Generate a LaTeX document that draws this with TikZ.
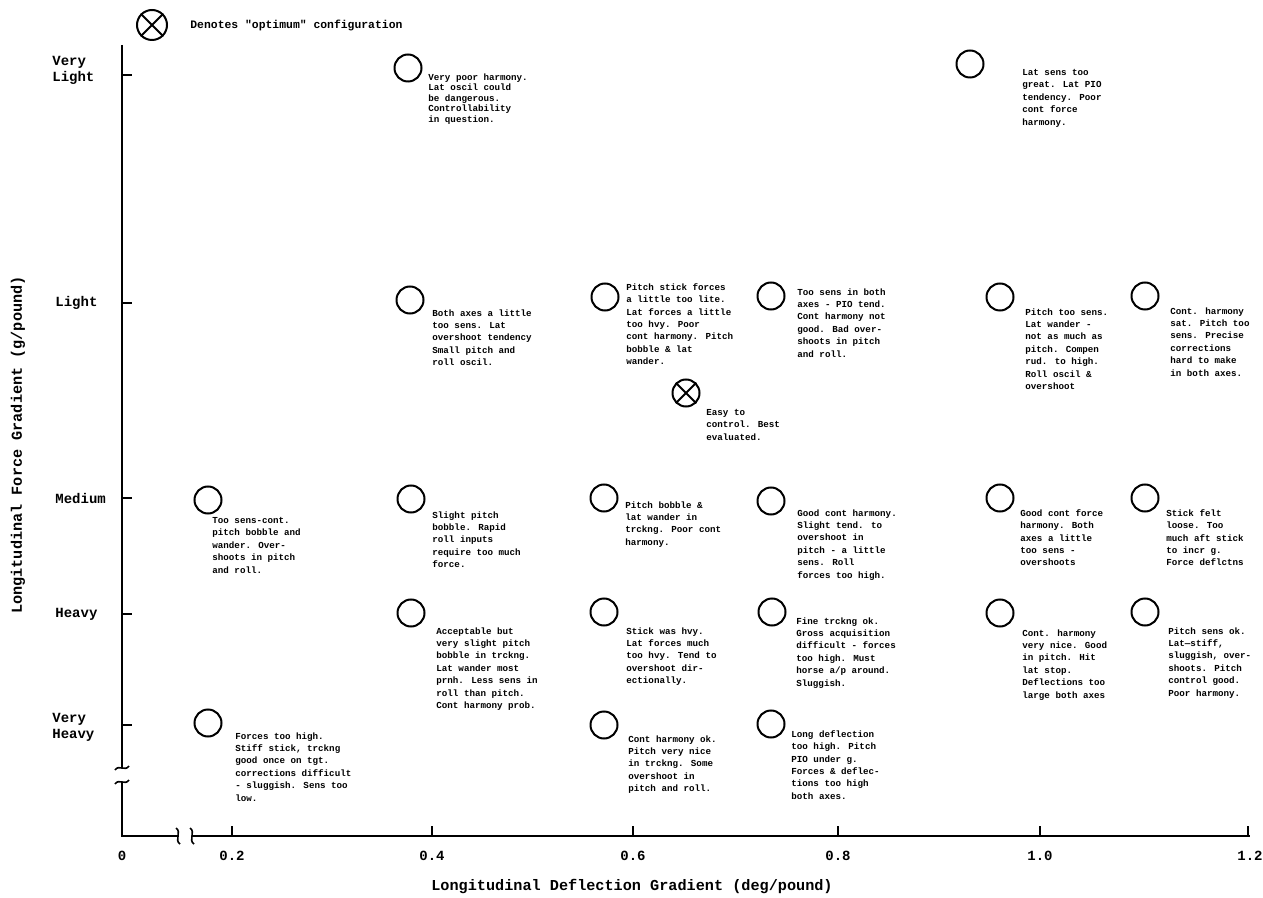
\documentclass[tikz,border=0pt]{standalone}
\usepackage{fontspec}
\newfontfamily\tw{Liberation Mono}
\begin{document}
\begin{tikzpicture}[x=0.5pt,y=-0.5pt,
  pt/.style={circle,draw,line width=1pt,minimum size=13.5pt,inner sep=0pt},
  note/.style={anchor=north west,inner sep=0pt,align=left,font=\tw\bfseries\fontsize{4.6}{6.2}\selectfont},
  axl/.style={font=\tw\bfseries\fontsize{7}{8}\selectfont,align=left,inner sep=0pt},
  ttl/.style={font=\tw\bfseries\fontsize{7.6}{8}\selectfont,inner sep=0pt},
  ax/.style={line width=1pt},
  brk/.style={line width=0.8pt}]
\useasboundingbox (0,0) rectangle (1263,898);
% legend
\node[pt,minimum size=15pt] (leg) at (152,25) {};
\draw[line width=1pt] (leg.north east) -- (leg.south west) (leg.north west) -- (leg.south east);
\node[anchor=west,inner sep=0pt,font=\tw\bfseries\fontsize{5.7}{7}\selectfont] (legt) at (190,25) {Denotes "optimum" configuration};
% axes
\coordinate (ytop) at (122,45);
\coordinate (yb1) at (122,768);
\coordinate (yb2) at (122,782);
\coordinate (O) at (122,836);
\coordinate (xb1) at (178,836);
\coordinate (xb2) at (192,836);
\coordinate (xend) at (1250,836);
\draw[ax] (ytop) -- (yb1);
\draw[ax] (yb2) -- (O) -- (xb1);
\draw[ax] (xb2) -- (xend);
\draw[brk] (yb1) ++(-7,2) .. controls +(4,-6) and +(-4,6) .. +(14,-4);
\draw[brk] (yb2) ++(-7,2) .. controls +(4,-6) and +(-4,6) .. +(14,-4);
\draw[brk] (xb1) ++(-2,-8) .. controls +(6,4) and +(-6,-4) .. +(4,16);
\draw[brk] (xb2) ++(-2,-8) .. controls +(6,4) and +(-6,-4) .. +(4,16);
% y ticks
\foreach \yy in {75,303,498,614,725} \draw[ax] (122,\yy) -- (132,\yy);
% x ticks
\foreach \xx in {232,432,633,838,1040,1248} \draw[ax] (\xx,836) -- (\xx,826);
% y labels
\node[axl,anchor=west] (yl1) at (52,70) {Very\\Light};
\node[axl,anchor=west] (yl2) at (55,303) {Light};
\node[axl,anchor=west] (yl3) at (55,498) {Medium};
\node[axl,anchor=west] (yl4) at (55,614) {Heavy};
\node[axl,anchor=west] (yl5) at (52,727) {Very\\Heavy};
% x labels
\node[axl] (xl0) at (122,856) {0};
\node[axl] (xl1) at (232,856) {0.2};
\node[axl] (xl2) at (432,856) {0.4};
\node[axl] (xl3) at (633,856) {0.6};
\node[axl] (xl4) at (838,856) {0.8};
\node[axl] (xl5) at (1040,856) {1.0};
\node[axl] (xl6) at (1250,856) {1.2};
% titles
\node[ttl] (xt) at (632,886) {Longitudinal Deflection Gradient (deg/pound)};
\node[ttl,rotate=90] (yt) at (18,445) {Longitudinal Force Gradient (g/pound)};
% Very light row
\node[pt] (vl1) at (408,68) {};
\node[note,font=\tw\bfseries\fontsize{4.6}{5.3}\selectfont] (tvl1) at (428,73) {Very poor harmony.\\Lat oscil could\\be dangerous.\\Controllability\\in question.};
\node[pt] (vl2) at (970,64) {};
\node[note] (tvl2) at (1022,69) {Lat sens too\\great. Lat PIO\\tendency. Poor\\cont force\\harmony.};
% Light row
\node[pt] (l1) at (410,300) {};
\node[note] (tl1) at (432,309) {Both axes a little\\too sens. Lat\\overshoot tendency\\Small pitch and\\roll oscil.};
\node[pt] (l2) at (605,297) {};
\node[note] (tl2) at (626,283) {Pitch stick forces\\a little too lite.\\Lat forces a little\\too hvy. Poor\\cont harmony. Pitch\\bobble \& lat\\wander.};
\node[pt] (l3) at (771,296) {};
\node[note] (tl3) at (797,288) {Too sens in both\\axes - PIO tend.\\Cont harmony not\\good. Bad over-\\shoots in pitch\\and roll.};
\node[pt] (l4) at (1000,297) {};
\node[note] (tl4) at (1025,308) {Pitch too sens.\\Lat wander -\\not as much as\\pitch. Compen\\rud. to high.\\Roll oscil \&\\overshoot};
\node[pt] (l5) at (1145,296) {};
\node[note] (tl5) at (1170,307) {Cont. harmony\\sat. Pitch too\\sens. Precise\\corrections\\hard to make\\in both axes.};
% optimum
\node[pt] (op) at (686,393) {};
\draw[line width=1pt] (op.north east) -- (op.south west) (op.north west) -- (op.south east);
\node[note] (top) at (706,409) {Easy to\\control. Best\\evaluated.};
% Medium row
\node[pt] (m1) at (208,500) {};
\node[note] (tm1) at (212,517) {Too sens-cont.\\pitch bobble and\\wander. Over-\\shoots in pitch\\and roll.};
\node[pt] (m2) at (411,499) {};
\node[note] (tm2) at (432,511) {Slight pitch\\bobble. Rapid\\roll inputs\\require too much\\force.};
\node[pt] (m3) at (604,498) {};
\node[note] (tm3) at (625,501) {Pitch bobble \&\\lat wander in\\trckng. Poor cont\\harmony.};
\node[pt] (m4) at (771,501) {};
\node[note] (tm4) at (797,509) {Good cont harmony.\\Slight tend. to\\overshoot in\\pitch - a little\\sens. Roll\\forces too high.};
\node[pt] (m5) at (1000,498) {};
\node[note] (tm5) at (1020,509) {Good cont force\\harmony. Both\\axes a little\\too sens -\\overshoots};
\node[pt] (m6) at (1145,498) {};
\node[note] (tm6) at (1166,509) {Stick felt\\loose. Too\\much aft stick\\to incr g.\\Force deflctns};
% Heavy row
\node[pt] (h1) at (411,613) {};
\node[note] (th1) at (436,627) {Acceptable but\\very slight pitch\\bobble in trckng.\\Lat wander most\\prnh. Less sens in\\roll than pitch.\\Cont harmony prob.};
\node[pt] (h2) at (604,612) {};
\node[note] (th2) at (626,627) {Stick was hvy.\\Lat forces much\\too hvy. Tend to\\overshoot dir-\\ectionally.};
\node[pt] (h3) at (772,612) {};
\node[note] (th3) at (796,617) {Fine trckng ok.\\Gross acquisition\\difficult - forces\\too high. Must\\horse a/p around.\\Sluggish.};
\node[pt] (h4) at (1000,613) {};
\node[note] (th4) at (1022,629) {Cont. harmony\\very nice. Good\\in pitch. Hit\\lat stop.\\Deflections too\\large both axes};
\node[pt] (h5) at (1145,612) {};
\node[note] (th5) at (1168,627) {Pitch sens ok.\\Lat—stiff,\\sluggish, over-\\shoots. Pitch\\control good.\\Poor harmony.};
% Very heavy row
\node[pt] (v1) at (208,723) {};
\node[note] (tv1) at (235,732) {Forces too high.\\Stiff stick, trckng\\good once on tgt.\\corrections difficult\\- sluggish. Sens too\\low.};
\node[pt] (v2) at (604,725) {};
\node[note] (tv2) at (628,735) {Cont harmony ok.\\Pitch very nice\\in trckng. Some\\overshoot in\\pitch and roll.};
\node[pt] (v3) at (771,724) {};
\node[note] (tv3) at (791,730) {Long deflection\\too high. Pitch\\PIO under g.\\Forces \& deflec-\\tions too high\\both axes.};
\end{tikzpicture}
\end{document}
